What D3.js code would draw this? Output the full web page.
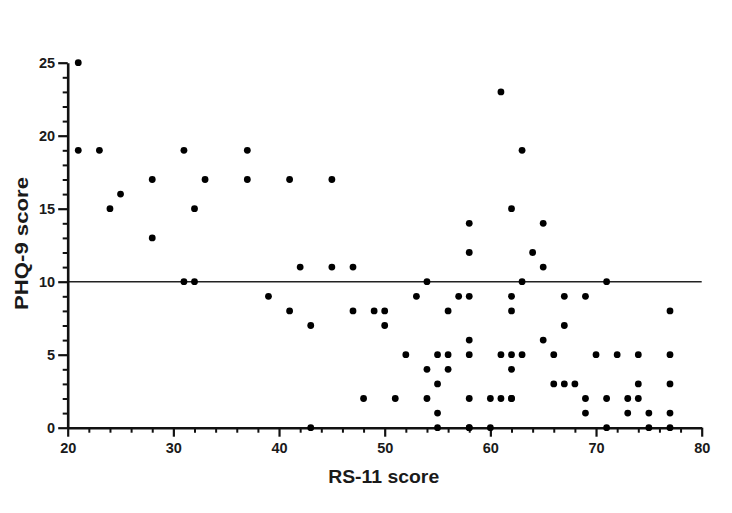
<!DOCTYPE html>
<html>
<head>
<meta charset="utf-8">
<script src="https://cdn.jsdelivr.net/npm/d3@7"></script>
<style>
  html, body { margin: 0; padding: 0; background: #fff; }
  svg { display: block; }
  text { font-family: "Liberation Sans", Arial, sans-serif; font-weight: bold; fill: #1a1a1a; }
</style>
</head>
<body>
<svg id="chart" width="732" height="513"></svg>
<script>
// RS-11 score (x) and PHQ-9 score (y) for each participant
const rsScores = [
  21, 21, 23, 24, 25, 28, 28, 31, 31, 32, 32, 33, 37, 37,
  41, 45, 42, 45, 47, 39, 41, 43, 47, 48, 43,
  49, 50, 50, 51, 52, 53, 54, 54, 54, 55, 55, 55, 55, 56, 56, 56, 57,
  58, 58, 58, 58, 58, 58, 58, 58,
  60, 60, 61, 61, 61, 62, 62, 62, 62, 62, 62, 62, 63, 63, 63,
  64, 65, 65, 65, 66, 66, 67, 67, 67, 68, 69, 69, 69, 70,
  71, 71, 71, 72, 73, 73, 74, 74, 74, 75, 75, 77, 77, 77, 77, 77
];
const phqScores = [
  25, 19, 19, 15, 16, 17, 13, 19, 10, 15, 10, 17, 19, 17,
  17, 17, 11, 11, 11, 9, 8, 7, 8, 2, 0,
  8, 8, 7, 2, 5, 9, 10, 4, 2, 5, 3, 1, 0, 8, 5, 4, 9,
  14, 12, 9, 6, 5, 2, 0, 0,
  2, 0, 23, 5, 2, 15, 9, 8, 5, 4, 2, 2, 19, 10, 5,
  12, 14, 11, 6, 5, 3, 9, 7, 3, 3, 9, 2, 1, 5,
  10, 2, 0, 5, 2, 1, 5, 3, 2, 1, 0, 8, 5, 3, 1, 0
];
const xMajorTicks = [20, 30, 40, 50, 60, 70, 80];
const xMinorTicks = [22, 24, 26, 28, 32, 34, 36, 38, 42, 44, 46, 48, 52, 54, 56, 58, 62, 64, 66, 68, 72, 74, 76, 78];
const yMajorTicks = [0, 5, 10, 15, 20, 25];
const yMinorTicks = [1, 2, 3, 4, 6, 7, 8, 9, 11, 12, 13, 14, 16, 17, 18, 19, 21, 22, 23, 24];
const cutoff = 10;
const xTitle = "RS-11 score";
const yTitle = "PHQ-9 score";

const svg = d3.select("#chart");
const x = d3.scaleLinear().domain([20, 80]).range([67.7, 701.7]);
const y = d3.scaleLinear().domain([0, 25]).range([427.7, 62.7]);

// cutoff line
svg.append("line")
  .attr("x1", x(20)).attr("x2", x(80))
  .attr("y1", y(cutoff)).attr("y2", y(cutoff))
  .attr("stroke", "#222").attr("stroke-width", 1.6);

// minor ticks
svg.append("g")
  .attr("transform", `translate(0,${y(0)})`)
  .call(d3.axisBottom(x).tickValues(xMinorTicks).tickSize(5).tickFormat(""))
  .call(g => g.select(".domain").remove())
  .call(g => g.selectAll("line").attr("stroke", "#111").attr("stroke-width", 2));
svg.append("g")
  .attr("transform", `translate(${x(20)},0)`)
  .call(d3.axisLeft(y).tickValues(yMinorTicks).tickSize(5).tickFormat(""))
  .call(g => g.select(".domain").remove())
  .call(g => g.selectAll("line").attr("stroke", "#111").attr("stroke-width", 2));

// major axes
const xAxis = svg.append("g")
  .attr("transform", `translate(0,${y(0)})`)
  .call(d3.axisBottom(x).tickValues(xMajorTicks).tickSize(9).tickSizeOuter(0).tickPadding(6).tickFormat(d3.format("d")));
const yAxis = svg.append("g")
  .attr("transform", `translate(${x(20)},0)`)
  .call(d3.axisLeft(y).tickValues(yMajorTicks).tickSize(9.5).tickSizeOuter(0).tickPadding(3).tickFormat(d3.format("d")));

[xAxis, yAxis].forEach(g => {
  g.select(".domain").attr("stroke", "#111").attr("stroke-width", 2.6);
  g.selectAll(".tick line").attr("stroke", "#111").attr("stroke-width", 2.2);
  g.selectAll(".tick text").style("font-size", "14.5px").style("font-family", "'Liberation Sans', Arial, sans-serif").style("font-weight", "bold").attr("fill", "#222");
});

// points
svg.append("g")
  .selectAll("circle")
  .data(rsScores.map((d, i) => [d, phqScores[i]]))
  .join("circle")
  .attr("cx", d => x(d[0]))
  .attr("cy", d => y(d[1]))
  .attr("r", 3.4)
  .attr("fill", "#000");

// axis titles
svg.append("text")
  .attr("x", (x(20) + x(80)) / 2 - 1)
  .attr("y", 482.5)
  .attr("text-anchor", "middle")
  .attr("textLength", 111)
  .attr("lengthAdjust", "spacingAndGlyphs")
  .style("font-size", "18.5px")
  .text(xTitle);

svg.append("text")
  .attr("transform", `translate(27.8,${243.5}) rotate(-90)`)
  .attr("text-anchor", "middle")
  .attr("textLength", 133)
  .attr("lengthAdjust", "spacingAndGlyphs")
  .style("font-size", "18.5px")
  .text(yTitle);
</script>
</body>
</html>
